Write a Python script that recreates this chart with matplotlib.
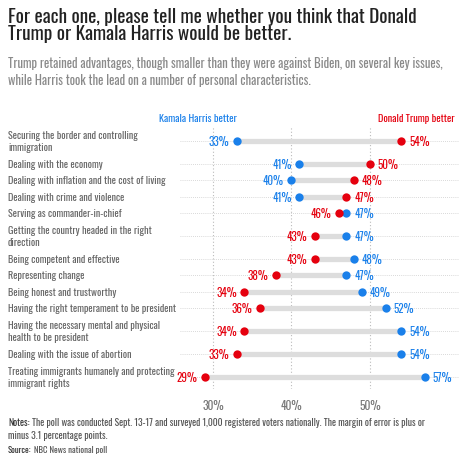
import numpy as np
import matplotlib
matplotlib.use("Agg")
from matplotlib import pyplot as plt
from matplotlib import transforms

plt.rcParams['font.family'] = ['Oswald', 'DejaVu Sans']

# data
categories = [
    "Securing the border and controlling\nimmigration",
    "Dealing with the economy",
    "Dealing with inflation and the cost of living",
    "Dealing with crime and violence",
    "Serving as commander-in-chief",
    "Getting the country headed in the right\ndirection",
    "Being competent and effective",
    "Representing change",
    "Being honest and trustworthy",
    "Having the right temperament to be president",
    "Having the necessary mental and physical\nhealth to be president",
    "Dealing with the issue of abortion",
    "Treating immigrants humanely and protecting\nimmigrant rights",
]
harris = [33, 41, 40, 41, 47, 47, 48, 47, 49, 52, 54, 54, 57]
trump = [54, 50, 48, 47, 46, 43, 43, 38, 34, 36, 34, 33, 29]
xticks = [30, 40, 50]

RED = "#e5000e"
BLUE = "#1a80ea"
W, H = 460, 477


def fx(x):
    return x / W


def fy(y):
    return 1 - y / H


fig = plt.figure(figsize=(W / 100, H / 100), dpi=100)

# row positions: two-line labels take more room
heights = [1.8 if "\n" in c else 1.0 for c in categories]
pos = [0.0]
for i in range(1, len(categories)):
    pos.append(pos[-1] + (heights[i - 1] + heights[i]) / 2)
pos = np.array(pos)

px_per_unit = 16.4
ax = fig.add_axes([fx(180), fy(390), fx(280), 263 / H])
ax.set_ylim(pos[-1] + 12 / px_per_unit, -15 / px_per_unit)
ax.set_xlim(30 + (180 - 213) / 7.85, 30 + (460 - 213) / 7.85)
for s in ax.spines.values():
    s.set_visible(False)
ax.set_yticks([])
ax.set_xticks(xticks)
ax.set_xticklabels([f"{t}%" for t in xticks], color="#777777", fontsize=8.3)
ax.tick_params(axis="x", length=0, pad=7)

for t in xticks:
    ax.axvline(t, color="#bbbbbb", lw=0.8, ls=(0, (1, 2)), zorder=0)

for i, (h, t) in enumerate(zip(harris, trump)):
    y = pos[i]
    ax.axhline(y, color="#cccccc", lw=0.6, ls=(0, (1, 1.5)), zorder=0)
    ax.plot([h, t], [y, y], color="#dddddd", lw=3.8, solid_capstyle="butt", zorder=1)
    ax.plot(h, y, "o", color=BLUE, ms=6, mec="none", zorder=3)
    ax.plot(t, y, "o", color=RED, ms=6, mec="none", zorder=3)
    for v, c, other in [(h, BLUE, t), (t, RED, h)]:
        if v <= other and not (v == other and c == RED):
            off, ha = -5.5, "right"
        else:
            off, ha = 5.5, "left"
        ax.annotate(f"{v}%", (v, y), xytext=(off, 0), textcoords="offset points",
                    ha=ha, va="center", color=c, fontsize=8)

# category labels
trans = transforms.blended_transform_factory(fig.transFigure, ax.transData)
for i, c in enumerate(categories):
    ax.text(fx(8), pos[i], c, transform=trans, ha="left", va="center",
            fontsize=7.3, color="#666666", linespacing=1.3)

# headers
fig.text(fx(237), fy(119), "Kamala Harris better", color=BLUE, fontsize=7.4,
         ha="right", va="center")
fig.text(fx(378), fy(119), "Donald Trump better", color=RED, fontsize=7.4,
         ha="left", va="center")

# title & subtitle
fig.text(fx(8), fy(8), "For each one, please tell me whether you think that Donald\n"
         "Trump or Kamala Harris would be better.", fontsize=13.9,
         color="#222222", ha="left", va="top", linespacing=0.92)
fig.text(fx(8), fy(57), "Trump retained advantages, though smaller than they were against Biden, on several key issues,\n"
         "while Harris took the lead on a number of personal characteristics.", fontsize=9.1,
         color="#8a8a8a", ha="left", va="top", linespacing=1.35)

# notes
fig.canvas.draw()
r = fig.canvas.get_renderer()
n1 = fig.text(fx(8), fy(418), "Notes:", fontsize=6.95, fontweight="bold", color="#333333",
              ha="left", va="top")
w = n1.get_window_extent(r).width
fig.text(fx(8) + (w + 3) / W, fy(418),
         "The poll was conducted Sept. 13-17 and surveyed 1,000 registered voters nationally. The margin of error is plus or",
         fontsize=6.95, color="#555555", ha="left", va="top")
fig.text(fx(8), fy(431), "minus 3.1 percentage points.", fontsize=6.95, color="#555555",
         ha="left", va="top")
s1 = fig.text(fx(8), fy(446), "Source:", fontsize=6.3, fontweight="bold", color="#333333",
              ha="left", va="top")
w2 = s1.get_window_extent(r).width
fig.text(fx(8) + (w2 + 3) / W, fy(446), "NBC News national poll", fontsize=6.3,
         color="#555555", ha="left", va="top")

fig.savefig("out.png", dpi=100)
